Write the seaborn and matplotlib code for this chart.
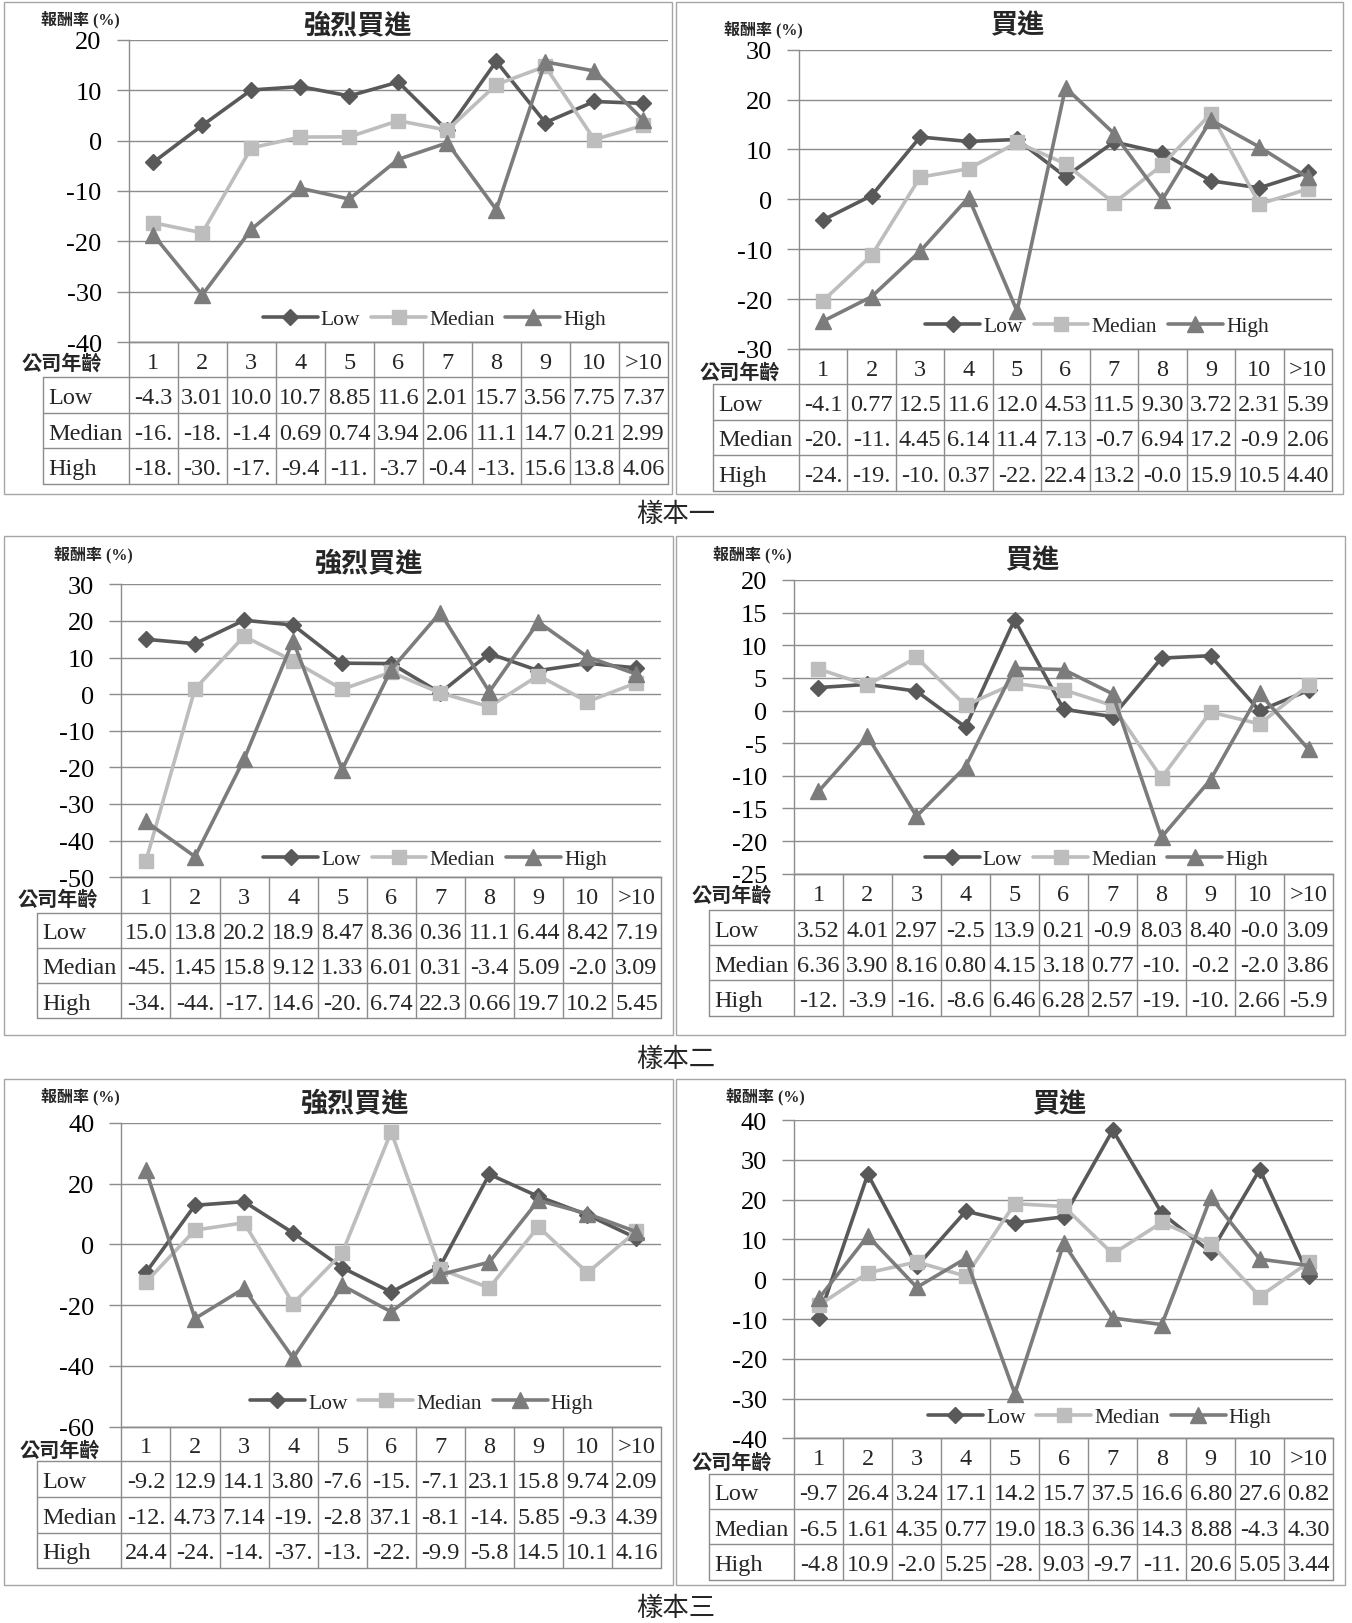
import numpy as np
import pandas as pd
import matplotlib
matplotlib.use("Agg")
import matplotlib.pyplot as plt
from matplotlib.lines import Line2D
from matplotlib.patches import Rectangle
import seaborn as sns

W, H = 1352, 1624

categories = ["1", "2", "3", "4", "5", "6", "7", "8", "9", "10", ">10"]
groups = ["Low", "Median", "High"]

# 樣本一 強烈買進
s1_strong_low = [-4.31, 3.01, 10.03, 10.7, 8.85, 11.6, 2.01, 15.7, 3.56, 7.75, 7.37]
s1_strong_median = [-16.3, -18.3, -1.45, 0.69, 0.74, 3.94, 2.06, 11.1, 14.7, 0.21, 2.99]
s1_strong_high = [-18.7, -30.6, -17.6, -9.45, -11.6, -3.72, -0.45, -13.7, 15.6, 13.8, 4.06]
# 樣本一 買進
s1_buy_low = [-4.12, 0.77, 12.5, 11.6, 12.0, 4.53, 11.5, 9.30, 3.72, 2.31, 5.39]
s1_buy_median = [-20.3, -11.2, 4.45, 6.14, 11.4, 7.13, -0.75, 6.94, 17.2, -0.95, 2.06]
s1_buy_high = [-24.4, -19.5, -10.4, 0.37, -22.4, 22.4, 13.2, -0.04, 15.9, 10.5, 4.40]
# 樣本二 強烈買進
s2_strong_low = [15.0, 13.8, 20.2, 18.9, 8.47, 8.36, 0.36, 11.1, 6.44, 8.42, 7.19]
s2_strong_median = [-45.6, 1.45, 15.8, 9.12, 1.33, 6.01, 0.31, -3.42, 5.09, -2.04, 3.09]
s2_strong_high = [-34.8, -44.4, -17.8, 14.6, -20.6, 6.74, 22.3, 0.66, 19.7, 10.2, 5.45]
# 樣本二 買進
s2_buy_low = [3.52, 4.01, 2.97, -2.54, 13.9, 0.21, -0.94, 8.03, 8.40, -0.03, 3.09]
s2_buy_median = [6.36, 3.90, 8.16, 0.80, 4.15, 3.18, 0.77, -10.3, -0.24, -2.05, 3.86]
s2_buy_high = [-12.4, -3.92, -16.2, -8.64, 6.46, 6.28, 2.57, -19.4, -10.6, 2.66, -5.94]
# 樣本三 強烈買進
s3_strong_low = [-9.24, 12.9, 14.1, 3.80, -7.62, -15.7, -7.14, 23.1, 15.8, 9.74, 2.09]
s3_strong_median = [-12.4, 4.73, 7.14, -19.5, -2.84, 37.1, -8.14, -14.3, 5.85, -9.34, 4.39]
s3_strong_high = [24.4, -24.4, -14.5, -37.4, -13.5, -22.2, -9.94, -5.84, 14.5, 10.1, 4.16]
# 樣本三 買進
s3_buy_low = [-9.74, 26.4, 3.24, 17.1, 14.2, 15.7, 37.5, 16.6, 6.80, 27.6, 0.82]
s3_buy_median = [-6.54, 1.61, 4.35, 0.77, 19.0, 18.3, 6.36, 14.3, 8.88, -4.34, 4.30]
s3_buy_high = [-4.84, 10.9, -2.04, 5.25, -28.8, 9.03, -9.74, -11.4, 20.6, 5.05, 3.44]

sample_captions = ["樣本一", "樣本二", "樣本三"]

COLORS = {"Low": "#595959", "Median": "#bdbdbd", "High": "#7c7c7c"}
MARKERS = {"Low": "D", "Median": "s", "High": "^"}
MSIZE = {"Low": 8.5, "Median": 10, "High": 11}
GRID = "#8c8c8c"
LINE_W = 2.6

sns.set_theme(style="white")
plt.rcParams["font.family"] = ["Liberation Serif", "Noto Sans CJK TC"]
plt.rcParams["axes.unicode_minus"] = False
CJK = ["Liberation Serif", "Noto Sans CJK TC"]

panels = [
    dict(box=(4.3, 2.7, 672, 495), plot=(128.8, 667.8, 40.7, 343.3), label_left=43.4,
         rows=(378, 414, 449, 484.5), ylim=(-40, 20), step=10, title="強烈買進",
         title_xy=(357, 26.7), ylab_xy=(41, 20), age_xy=(21.7, 364.5), leg_xy=(434.5, 320),
         data=(s1_strong_low, s1_strong_median, s1_strong_high)),
    dict(box=(675.5, 2.7, 1343, 495), plot=(799, 1332, 50.7, 350), label_left=713,
         rows=(385, 420.7, 455.7, 491.7), ylim=(-30, 30), step=10, title="買進",
         title_xy=(1017, 27), ylab_xy=(724, 29.3), age_xy=(700, 373.5), leg_xy=(1097, 327),
         data=(s1_buy_low, s1_buy_median, s1_buy_high)),
    dict(box=(4.3, 536.5, 673, 1035.8), plot=(121.4, 661, 585.4, 878.1), label_left=36.9,
         rows=(913.6, 948.7, 983.8, 1019.3), ylim=(-50, 30), step=10, title="強烈買進",
         title_xy=(368.5, 564.8), ylab_xy=(54, 554.4), age_xy=(17.3, 900.5), leg_xy=(435, 860.2),
         data=(s2_strong_low, s2_strong_median, s2_strong_high)),
    dict(box=(676, 536.5, 1345, 1035.8), plot=(794, 1333, 581, 874.7), label_left=709,
         rows=(910.8, 946.3, 981.4, 1016.9), ylim=(-25, 20), step=5, title="買進",
         title_xy=(1032, 561.3), ylab_xy=(713, 554.4), age_xy=(691.5, 897), leg_xy=(1096.5, 860.2),
         data=(s2_buy_low, s2_buy_median, s2_buy_high)),
    dict(box=(4.3, 1080, 673, 1585.9), plot=(121.4, 661, 1124, 1427.6), label_left=36.9,
         rows=(1462.2, 1498.3, 1533.6, 1569.3), ylim=(-60, 40), step=20, title="強烈買進",
         title_xy=(354.7, 1104.3), ylab_xy=(41, 1096.5), age_xy=(19.5, 1452), leg_xy=(421.8, 1403.9),
         data=(s3_strong_low, s3_strong_median, s3_strong_high)),
    dict(box=(675.5, 1080, 1345, 1586), plot=(794.3, 1333.3, 1121.2, 1439.3), label_left=708.9,
         rows=(1474.6, 1509.9, 1545.3, 1581.3), ylim=(-40, 40), step=10, title="買進",
         title_xy=(1059, 1105.3), ylab_xy=(726, 1096.5), age_xy=(691.5, 1464), leg_xy=(1099.8, 1418),
         data=(s3_buy_low, s3_buy_median, s3_buy_high)),
]
caption_xy = [(675.5, 515), (675.5, 1060), (675.5, 1609)]


def cell_text(v):
    return f"{v:.2f}"[:4]


fig = plt.figure(figsize=(W / 100, H / 100), dpi=100, facecolor="white")
ov = fig.add_axes([0, 0, 1, 1], zorder=0)
ov.set_xlim(0, W)
ov.set_ylim(H, 0)
ov.axis("off")

for p in panels:
    bx0, by0, bx1, by1 = p["box"]
    ov.add_patch(Rectangle((bx0, by0), bx1 - bx0, by1 - by0, fill=False, ec="#a6a6a6", lw=1.0))

    L, R, T, B = p["plot"]
    ax = fig.add_axes([L / W, 1 - B / H, (R - L) / W, (B - T) / H], zorder=2)
    ax.set_facecolor("none")

    df = pd.DataFrame({
        "age": np.tile(np.arange(len(categories)), 3),
        "group": np.repeat(groups, len(categories)),
        "ret": np.concatenate(p["data"]),
    })
    for g in groups:
        sns.lineplot(data=df[df["group"] == g], x="age", y="ret", color=COLORS[g],
                     marker=MARKERS[g], markersize=MSIZE[g], markeredgecolor=COLORS[g],
                     markeredgewidth=1, linewidth=LINE_W, ax=ax, legend=False,
                     errorbar=None, zorder=3, clip_on=False)

    lo, hi = p["ylim"]
    ax.set_xlim(-0.5, len(categories) - 0.5)
    ax.set_ylim(lo, hi)
    ax.set_yticks(np.arange(lo, hi + p["step"] / 2, p["step"]))
    ax.set_xticks([])
    ax.set_xlabel("")
    ax.set_ylabel("")
    ax.grid(axis="y", color=GRID, linewidth=1.0)
    ax.set_axisbelow(True)
    for s in ["top", "right"]:
        ax.spines[s].set_visible(False)
    for s in ["left", "bottom"]:
        ax.spines[s].set_color(GRID)
        ax.spines[s].set_linewidth(1.0)
    ax.tick_params(axis="y", left=True, length=8.5, width=1.0, color=GRID, pad=11,
                   labelsize=19, labelcolor="black")

    handles = [Line2D([], [], color=COLORS[g], marker=MARKERS[g], markersize=MSIZE[g],
                      markeredgecolor=COLORS[g], lw=LINE_W) for g in groups]
    lx, ly = p["leg_xy"]
    ax.legend(handles, groups, loc="center", bbox_to_anchor=(lx / W, 1 - ly / H),
              bbox_transform=fig.transFigure, ncol=3, frameon=False, fontsize=15.5,
              handlelength=2.55, handletextpad=0.15, columnspacing=0.5,
              borderpad=0, borderaxespad=0)

    # data table under the plot
    fig.canvas.draw()
    inv = ov.transData.inverted()
    col_x = [inv.transform(ax.transData.transform((i, 0)))[0] for i in range(len(categories))]
    half = (R - L) / len(categories) / 2
    edges = [c - half for c in col_x] + [col_x[-1] + half]
    hb, r1, r2, r3 = p["rows"]
    lab = p["label_left"]
    tl = dict(color=GRID, lw=1.0)
    ov.plot([L, R], [B, B], **tl)
    for yy in (hb, r1, r2, r3):
        ov.plot([lab, R], [yy, yy], **tl)
    for xx in edges:
        ov.plot([xx, xx], [B, r3], **tl)
    ov.plot([lab, lab], [hb, r3], **tl)

    for cx, c in zip(col_x, categories):
        ov.text(cx, (B + hb) / 2, c, ha="center", va="center_baseline", fontsize=17.5)
    bounds = [hb, r1, r2, r3]
    for k, (g, vals) in enumerate(zip(groups, p["data"])):
        ym = (bounds[k] + bounds[k + 1]) / 2
        ov.text(lab + 5, ym, g, ha="left", va="center_baseline", fontsize=17.5)
        for cx, v in zip(col_x, vals):
            ov.text(cx, ym, cell_text(v), ha="center", va="center_baseline", fontsize=17.5)

    ov.text(*p["age_xy"], "公司年齡", ha="left", va="center", fontsize=14.5,
            fontweight="bold", family=CJK)
    ov.text(*p["ylab_xy"], "報酬率 (%)", ha="left", va="center", fontsize=11.5,
            fontweight="bold", family=CJK)
    ov.text(*p["title_xy"], p["title"], ha="center", va="center", fontsize=19.5,
            fontweight="bold", family=CJK)

for (cx, cy), cap in zip(caption_xy, sample_captions):
    ov.text(cx, cy, cap, ha="center", va="center", fontsize=19, family=CJK)

fig.savefig("out.png", dpi=100, facecolor="white")
